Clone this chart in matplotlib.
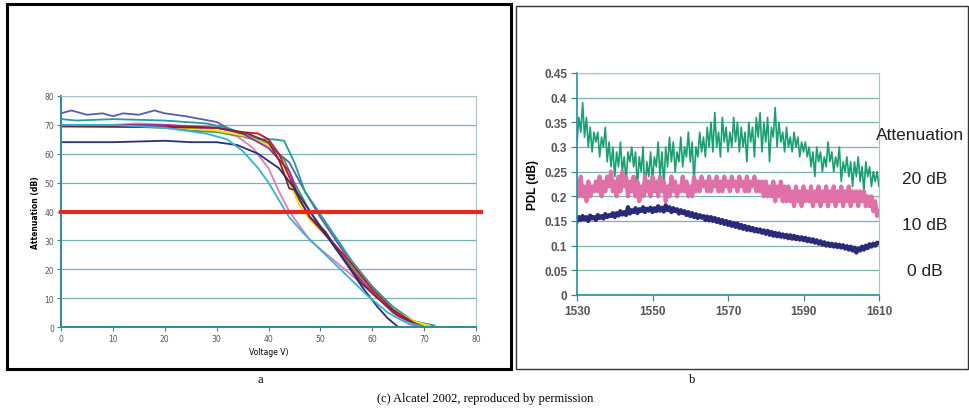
import matplotlib.pyplot as plt
from matplotlib.patches import Rectangle
import numpy as np

# ---- panel a: attenuation vs voltage (one curve per device) ----
curves = [
    ("#5a5ab8", [0, 2, 5, 8, 10, 12, 15, 18, 20, 24, 27, 30, 33, 36, 40, 44, 47, 50, 53, 56, 60, 64, 68, 70],
     [74, 75, 73.5, 74, 73, 74, 73.5, 75, 74, 73, 72, 71, 68, 66, 63, 57, 47, 38, 30, 22, 14, 6, 1, 0]),
    ("#1f9ea0", [0, 3, 10, 20, 28, 32, 35, 38, 41, 43, 45, 47, 50, 53, 56, 60, 64, 68, 72],
     [72, 71.5, 72, 71.5, 70.5, 69, 67, 65, 65, 64.5, 57, 47, 39, 31, 23, 14, 7, 2, 0.5]),
    ("#e878b8", [0, 10, 15, 20, 30, 34, 37, 40, 42, 44, 46, 48, 52, 56, 60, 64, 67, 69],
     [70, 70, 70.5, 70, 68, 66, 62, 55, 47, 40, 35, 30, 24, 18, 12, 5, 1, 0]),
    ("#40a040", [0, 20, 25, 30, 35, 40, 43, 45, 48, 52, 56, 60, 64, 68, 71],
     [70, 69, 68, 67.5, 66, 63.5, 58, 50, 40, 30, 21, 13, 6, 2, 0.5]),
    ("#f0e010", [0, 20, 30, 36, 40, 42, 44, 46, 48, 52, 56, 60, 64, 68, 71],
     [69.5, 69.5, 68, 66, 63, 58, 50, 42, 37, 30, 22, 13, 6, 2, 0.5]),
    ("#9a30a8", [0, 20, 30, 35, 40, 42, 44, 46, 48, 52, 56, 60, 64, 68, 70],
     [70, 70, 69, 67, 62, 58, 54, 44, 38, 30, 20, 12, 5, 1, 0]),
    ("#c8102e", [0, 10, 20, 30, 35, 38, 40, 42, 44, 46, 48, 52, 56, 60, 64, 68, 70],
     [69.5, 69.5, 69.5, 69, 67.5, 67, 65, 60, 52, 44, 38, 30, 22, 13, 6, 1.5, 0]),
    ("#7a2838", [0, 30, 36, 40, 42, 43, 44, 45, 46, 48, 51, 55, 58, 61, 65, 69],
     [69.5, 69, 67, 64, 58, 53, 48, 47.5, 44, 38, 33, 22, 15, 10, 4, 0.5]),
    ("#2c2c7c", [0, 10, 20, 25, 30, 34, 38, 42, 45, 48, 51, 55, 58, 61, 63, 65],
     [64, 64, 64.5, 64, 64, 63, 60, 55, 48, 40, 32, 22, 14, 7, 3, 0]),
    ("#30b4d4", [0, 10, 20, 28, 32, 35, 38, 40, 42, 44, 47, 51, 55, 59, 63, 66, 70],
     [70, 70, 69, 67, 65, 61, 55, 50, 44, 38, 32, 25, 18, 11, 5, 2, 0]),
]
threshold = 40

# ---- panel b: PDL vs wavelength for three attenuation settings ----
wl = np.arange(1530, 1610.5, 0.5)
pdl_20 = [
    0.31, 0.36, 0.33, 0.39, 0.32, 0.36, 0.30, 0.34, 0.29, 0.33,
    0.31, 0.33, 0.28, 0.32, 0.30, 0.34, 0.27, 0.31, 0.26, 0.30,
    0.24, 0.29, 0.26, 0.31, 0.25, 0.28, 0.23, 0.29, 0.27, 0.30,
    0.26, 0.29, 0.22, 0.28, 0.25, 0.30, 0.20, 0.27, 0.24, 0.29,
    0.23, 0.28, 0.26, 0.31, 0.24, 0.29, 0.22, 0.30, 0.26, 0.32,
    0.27, 0.31, 0.25, 0.29, 0.27, 0.32, 0.26, 0.30, 0.28, 0.33,
    0.27, 0.31, 0.23, 0.30, 0.28, 0.33, 0.29, 0.32, 0.28, 0.34,
    0.30, 0.35, 0.29, 0.37, 0.30, 0.33, 0.28, 0.36, 0.31, 0.34,
    0.29, 0.33, 0.30, 0.36, 0.31, 0.35, 0.29, 0.34, 0.30, 0.33,
    0.27, 0.35, 0.31, 0.34, 0.28, 0.36, 0.32, 0.37, 0.29, 0.35,
    0.31, 0.36, 0.27, 0.34, 0.32, 0.38, 0.30, 0.35, 0.31, 0.33,
    0.29, 0.34, 0.30, 0.32, 0.29, 0.33, 0.30, 0.32, 0.28, 0.31,
    0.29, 0.31, 0.28, 0.30, 0.26, 0.29, 0.24, 0.30, 0.27, 0.29,
    0.25, 0.28, 0.26, 0.31, 0.27, 0.29, 0.25, 0.28, 0.26, 0.30,
    0.23, 0.27, 0.25, 0.28, 0.24, 0.27, 0.22, 0.27, 0.24, 0.28,
    0.23, 0.26, 0.21, 0.27, 0.24, 0.26, 0.22, 0.25, 0.23, 0.25,
    0.22,
]
pdl_10 = [
    0.23, 0.20, 0.24, 0.20, 0.22, 0.19, 0.23, 0.20, 0.22, 0.21,
    0.23, 0.21, 0.24, 0.20, 0.23, 0.21, 0.24, 0.22, 0.25, 0.21,
    0.23, 0.20, 0.24, 0.21, 0.25, 0.22, 0.24, 0.20, 0.23, 0.21,
    0.24, 0.20, 0.23, 0.19, 0.22, 0.20, 0.24, 0.21, 0.23, 0.20,
    0.24, 0.21, 0.23, 0.20, 0.24, 0.21, 0.23, 0.19, 0.22, 0.20,
    0.24, 0.21, 0.23, 0.20, 0.22, 0.21, 0.24, 0.21, 0.23, 0.20,
    0.22, 0.20, 0.24, 0.21, 0.23, 0.21, 0.24, 0.22, 0.23, 0.21,
    0.24, 0.21, 0.23, 0.22, 0.24, 0.21, 0.23, 0.21, 0.24, 0.22,
    0.23, 0.21, 0.24, 0.22, 0.23, 0.21, 0.24, 0.22, 0.23, 0.21,
    0.24, 0.21, 0.23, 0.22, 0.24, 0.21, 0.23, 0.21, 0.23, 0.20,
    0.23, 0.20, 0.22, 0.20, 0.23, 0.19, 0.22, 0.20, 0.23, 0.19,
    0.22, 0.19, 0.22, 0.19, 0.21, 0.18, 0.22, 0.19, 0.21, 0.18,
    0.22, 0.19, 0.21, 0.19, 0.22, 0.18, 0.21, 0.19, 0.22, 0.18,
    0.21, 0.19, 0.22, 0.18, 0.21, 0.19, 0.22, 0.18, 0.21, 0.19,
    0.22, 0.18, 0.21, 0.19, 0.22, 0.18, 0.21, 0.19, 0.21, 0.18,
    0.21, 0.19, 0.21, 0.18, 0.20, 0.18, 0.20, 0.17, 0.19, 0.16,
    0.17,
]
pdl_0 = [
    0.150, 0.158, 0.152, 0.160, 0.153, 0.158, 0.150, 0.161, 0.155, 0.158,
    0.152, 0.162, 0.156, 0.160, 0.155, 0.164, 0.158, 0.162, 0.160, 0.166,
    0.158, 0.166, 0.161, 0.170, 0.163, 0.168, 0.162, 0.178, 0.165, 0.172,
    0.168, 0.176, 0.166, 0.174, 0.170, 0.178, 0.168, 0.175, 0.171, 0.177,
    0.168, 0.176, 0.170, 0.180, 0.171, 0.177, 0.169, 0.182, 0.172, 0.178,
    0.168, 0.176, 0.170, 0.174, 0.165, 0.172, 0.166, 0.170, 0.162, 0.168,
    0.160, 0.166, 0.158, 0.164, 0.156, 0.162, 0.157, 0.160, 0.152, 0.159,
    0.151, 0.158, 0.150, 0.156, 0.148, 0.154, 0.146, 0.152, 0.144, 0.150,
    0.142, 0.148, 0.140, 0.146, 0.138, 0.145, 0.136, 0.142, 0.134, 0.140,
    0.132, 0.138, 0.131, 0.136, 0.129, 0.134, 0.128, 0.133, 0.126, 0.131,
    0.124, 0.130, 0.122, 0.128, 0.120, 0.126, 0.119, 0.125, 0.118, 0.123,
    0.117, 0.122, 0.115, 0.121, 0.114, 0.120, 0.113, 0.118, 0.112, 0.117,
    0.111, 0.116, 0.109, 0.114, 0.108, 0.113, 0.106, 0.111, 0.104, 0.109,
    0.102, 0.107, 0.100, 0.105, 0.099, 0.104, 0.098, 0.103, 0.097, 0.102,
    0.096, 0.101, 0.094, 0.099, 0.092, 0.098, 0.090, 0.096, 0.086, 0.094,
    0.090, 0.098, 0.092, 0.100, 0.095, 0.103, 0.098, 0.104, 0.100, 0.106,
    0.105,
]
side_labels = ["Attenuation", "20 dB", "10 dB", "0 dB"]

grid_col = "#7ab0b4"
spine_col = "#2a8c9c"
tick_col = "#555555"
sans = "Liberation Sans"

fig = plt.figure(figsize=(9.7, 4.1), dpi=100)

# panel frames
fig.patches.append(Rectangle((7 / 970, 1 - 370 / 410), 504 / 970, 365 / 410,
                             transform=fig.transFigure, fill=False, ec="black", lw=2.2))
fig.patches.append(Rectangle((516 / 970, 1 - 370 / 410), 452 / 970, 363 / 410,
                             transform=fig.transFigure, fill=False, ec="#333333", lw=1.0))

# ---- panel a ----
ax1 = fig.add_axes([61 / 970, 1 - 328 / 410, 415 / 970, 231 / 410])
for color, xs, ys in curves:
    ax1.plot(xs, ys, color=color, lw=1.3)
ax1.plot([0, 81], [threshold, threshold], color="#e8281c", lw=3, clip_on=False, zorder=5)
ax1.set_xlim(0, 80)
ax1.set_ylim(0, 80)
ax1.set_xticks(range(0, 81, 10))
ax1.set_yticks(range(0, 81, 10))
ax1.yaxis.grid(True, color=grid_col, lw=0.9)
ax1.set_axisbelow(True)
for s in ["left", "bottom"]:
    ax1.spines[s].set_color(spine_col)
    ax1.spines[s].set_linewidth(1.4)
for s in ["top", "right"]:
    ax1.spines[s].set_color("#a8c4c8")
ax1.tick_params(labelsize=5.5, colors=spine_col, labelcolor=tick_col, length=3, width=0.8, pad=2)
ax1.set_xlabel("Voltage V)", fontsize=5.5, labelpad=3)
ax1.set_ylabel("Attenuation (dB)", fontsize=5.5, fontweight="bold", labelpad=3)

# ---- panel b ----
ax2 = fig.add_axes([577 / 970, 1 - 296 / 410, 302 / 970, 222 / 410])
ax2.plot(wl, pdl_20, color="#18a070", lw=1.2)
ax2.plot(wl, pdl_10, color="#e070a8", lw=3.0)
ax2.plot(wl, pdl_0, color="#2a2a78", lw=3.0)
ax2.set_xlim(1530, 1610)
ax2.set_ylim(0, 0.45)
ax2.set_xticks([1530, 1550, 1570, 1590, 1610])
ax2.set_yticks(np.arange(0, 0.451, 0.05))
ax2.set_yticklabels(["0", "0.05", "0.1", "0.15", "0.2", "0.25", "0.3", "0.35", "0.4", "0.45"])
ax2.yaxis.grid(True, color=grid_col, lw=0.9)
ax2.set_axisbelow(True)
for s in ["left", "bottom"]:
    ax2.spines[s].set_color(spine_col)
    ax2.spines[s].set_linewidth(1.2)
for s in ["top", "right"]:
    ax2.spines[s].set_color("#a8c4c8")
ax2.tick_params(labelsize=8.5, colors=spine_col, labelcolor=tick_col, length=4, width=0.9, pad=3)
for lab in ax2.get_xticklabels() + ax2.get_yticklabels():
    lab.set_fontweight("bold")
    lab.set_family(sans)
ax2.set_ylabel("PDL (dB)", fontsize=8.5, fontweight="bold", labelpad=4, family=sans)

fig.text(876 / 970, 1 - 135 / 410, side_labels[0], fontsize=12.5, va="center", ha="left",
         color="#222222", family=sans)
for lab, y in zip(side_labels[1:], [180, 226, 272]):
    fig.text(925 / 970, 1 - y / 410, lab, fontsize=12.5, va="center", ha="center",
             color="#222222", family=sans)

# captions
fig.text(260 / 970, 1 - 380 / 410, "a", fontsize=9, ha="center", va="center", family="Liberation Serif")
fig.text(692 / 970, 1 - 380 / 410, "b", fontsize=9, ha="center", va="center", family="Liberation Serif")
fig.text(485 / 970, 1 - 399 / 410, "(c) Alcatel 2002, reproduced by permission", fontsize=9,
         ha="center", va="center", family="Liberation Serif")

fig.savefig("out.png", dpi=100)
